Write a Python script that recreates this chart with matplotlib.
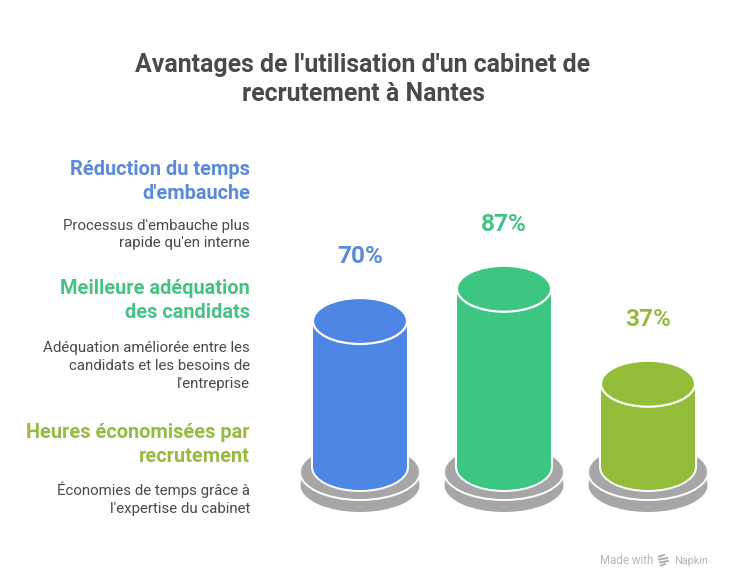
import matplotlib
matplotlib.use('Agg')
import matplotlib.pyplot as plt
from matplotlib.patches import Ellipse, Rectangle

plt.rcParams['font.family'] = ['Roboto', 'DejaVu Sans']

# Data
values = [70, 87, 37]
value_labels = ['70%', '87%', '37%']
headings = ['Réduction du temps\nd\'embauche',
            'Meilleure adéquation\ndes candidats',
            'Heures économisées par\nrecrutement']
details = ['Processus d\'embauche plus\nrapide qu\'en interne',
           'Adéquation améliorée entre les\ncandidats et les besoins de\nl\'entreprise',
           'Économies de temps grâce à\nl\'expertise du cabinet']
colors = ['#4E86E5', '#3DC682', '#93BD39']
text_colors = ['#5A8AD8', '#45C285', '#97BA41']
title = 'Avantages de l\'utilisation d\'un cabinet de\nrecrutement à Nantes'

gray = '#A6A6A6'
dark = '#4A4A4A'

fig = plt.figure(figsize=(7.32, 5.88), dpi=100, facecolor='white')

# page axes in pixels, used for the text
page = fig.add_axes([0, 0, 1, 1])
page.set_xlim(0, 732)
page.set_ylim(588, 0)
page.axis('off')

page.text(363, 79.5, title, ha='center', va='center', fontsize=17.95, fontweight='bold',
          color=dark, linespacing=1.3)

heading_y = [181.5, 300.5, 444.5]
detail_y = [234.5, 366, 498.5]
for i in range(3):
    page.text(250, heading_y[i], headings[i], ha='right', va='center', fontsize=14.4,
              fontweight='bold', color=text_colors[i], linespacing=1.32)
    page.text(250, detail_y[i], details[i], ha='right', va='center', fontsize=10.8,
              color=dark, linespacing=1.36)

# Made with Napkin
page.text(600, 561, 'Made with', ha='left', va='center', fontsize=8.3, color='#B5B5B5')
page.text(708, 561, 'Napkin', ha='right', va='center', fontsize=7.8, color='#B5B5B5')
for yy, x0, x1 in [(556.5, 659, 664), (559.5, 659, 667), (562.5, 660, 668), (565.5, 661, 665)]:
    page.plot([x0, x1], [yy, yy - 1.5], color='#B0B0B0', lw=1.4)

# bar axes: x is category index, 144 px per bar; y is percent, 1.9 px per percent, 0 at y=454
ax = fig.add_axes([288 / 732, (588 - 530) / 588, 432 / 732, 400 / 588])
ax.set_xlim(-0.5, 2.5)
ax.set_ylim(-76 / 1.9, 324 / 1.9)
ax.axis('off')
ax.patch.set_alpha(0)

px_x = 1 / 144
px_y = 1 / 1.9
body_w = 94 * px_x
top_h = 46 * px_y
disc_w = 119 * px_x
disc_h = 54 * px_y
base_y = -13 * px_y  # centre of the cylinder foot

for i, v in enumerate(values):
    c = colors[i]
    # plate
    ax.add_patch(Ellipse((i, -31 * px_y), disc_w, disc_h, fc=gray, ec='none', zorder=1))
    ax.add_patch(Ellipse((i, -18 * px_y), disc_w + 1 * px_x, disc_h + 2 * px_y, fc=gray, ec='white', lw=1.4, zorder=2))
    # white halo round the body
    ax.add_patch(Rectangle((i - body_w / 2 - 2 * px_x, base_y), body_w + 4 * px_x, v - base_y, fc='white', ec='none', zorder=3))
    ax.add_patch(Ellipse((i, base_y), body_w + 4 * px_x, top_h + 4 * px_y, fc='white', ec='none', zorder=3))
    # body
    ax.add_patch(Ellipse((i, base_y), body_w, top_h, fc=c, ec='none', zorder=4))
    ax.add_patch(Rectangle((i - body_w / 2, base_y), body_w, v - base_y, fc=c, ec='none', zorder=4))
    # top
    ax.add_patch(Ellipse((i, v), body_w, top_h, fc=c, ec='white', lw=1.6, zorder=5))
    ax.text(i, v + 64.5 * px_y, value_labels[i], ha='center', va='center', fontsize=17.6,
            fontweight='bold', color=text_colors[i], zorder=6)

fig.savefig('out.png', dpi=100)
